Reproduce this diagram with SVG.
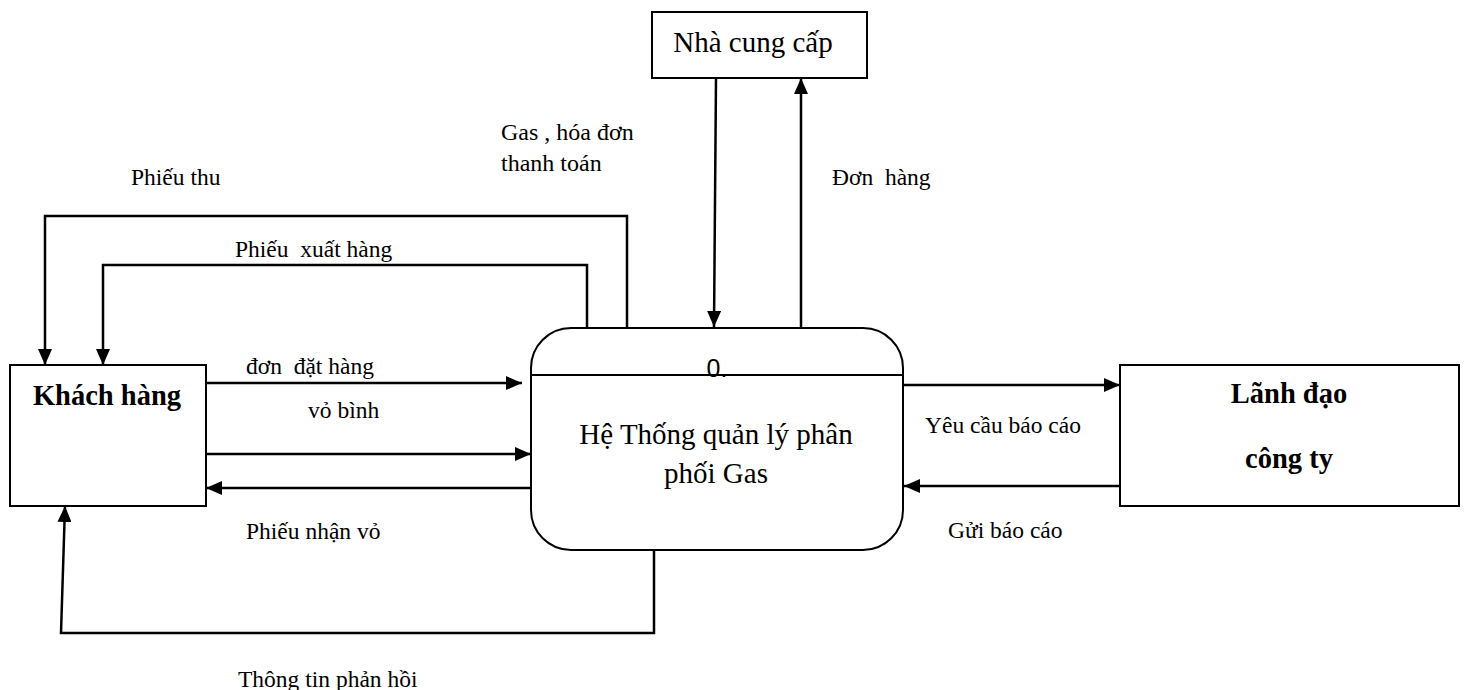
<svg xmlns="http://www.w3.org/2000/svg" width="1464" height="690" viewBox="0 0 1464 690">
  <defs>
    <marker id="arrow" markerUnits="userSpaceOnUse" markerWidth="16" markerHeight="14" refX="16" refY="7" orient="auto">
      <path d="M0,0 L16,7 L0,14 z" fill="#000"/>
    </marker>
    <style>
      .box { fill: #fff; stroke: #000; stroke-width: 2; }
      .flow { fill: none; stroke: #000; stroke-width: 2.5; marker-end: url(#arrow); }
      .label { font-family: "Liberation Serif", "Times New Roman", serif; font-size: 23.5px; fill: #000; }
      .title { font-family: "Liberation Serif", "Times New Roman", serif; font-size: 28.5px; font-weight: bold; fill: #000; text-anchor: middle; }
      .proc { font-family: "Liberation Serif", "Times New Roman", serif; font-size: 29px; fill: #000; text-anchor: middle; }
    </style>
  </defs>
  <rect width="1464" height="690" fill="#fff"/>

  <!-- Connectors -->
  <g id="connectors">
    <polyline class="flow" points="627,327 627,216 45,216 45,365"/>
    <polyline class="flow" points="587,327 587,265 103,265 103,365"/>
    <line class="flow" x1="206" y1="383" x2="522" y2="383"/>
    <line class="flow" x1="206" y1="454" x2="531" y2="454"/>
    <line class="flow" x1="531" y1="488" x2="206" y2="488"/>
    <polyline class="flow" points="654,550 654,633 61,633 65,506"/>
    <line class="flow" x1="716" y1="78" x2="714" y2="327"/>
    <line class="flow" x1="801" y1="327" x2="801" y2="78"/>
    <line class="flow" x1="904" y1="385" x2="1120" y2="385"/>
    <line class="flow" x1="1120" y1="486" x2="904" y2="486"/>
  </g>

  <!-- Flow labels -->
  <g id="flow-labels" class="label">
    <text x="501" y="140" font-size="24">Gas , hóa đơn</text>
    <text x="501" y="171" font-size="24">thanh toán</text>
    <text x="131" y="185">Phiếu thu</text>
    <text x="832" y="185" xml:space="preserve">Đơn  hàng</text>
    <text x="235" y="257" xml:space="preserve">Phiếu  xuất hàng</text>
    <text x="246" y="374" xml:space="preserve">đơn  đặt hàng</text>
    <text x="308" y="418">vỏ bình</text>
    <text x="925" y="433">Yêu cầu báo cáo</text>
    <text x="246" y="539">Phiếu nhận vỏ</text>
    <text x="948" y="538">Gửi báo cáo</text>
    <text x="238" y="687">Thông tin phản hồi</text>
  </g>

  <!-- External entity: supplier -->
  <g id="nha-cung-cap">
    <rect class="box" x="652" y="12" width="215" height="66"/>
    <text class="proc" x="753" y="52">Nhà cung cấp</text>
  </g>

  <!-- External entity: customer -->
  <g id="khach-hang">
    <rect class="box" x="10" y="365" width="196" height="141"/>
    <text class="title" x="107" y="405">Khách hàng</text>
  </g>

  <!-- External entity: management -->
  <g id="lanh-dao">
    <rect class="box" x="1120" y="365" width="339" height="141"/>
    <text class="title" x="1289" y="403">Lãnh đạo</text>
    <text class="title" x="1289" y="468">công ty</text>
  </g>

  <!-- Process 0 -->
  <g id="process-0">
    <rect class="box" x="531" y="328" width="372" height="222" rx="40" ry="40"/>
    <line x1="531" y1="375" x2="903" y2="375" stroke="#000" stroke-width="2"/>
    <text x="717" y="377" font-family="Liberation Sans, Arial, sans-serif" font-size="25" text-anchor="middle">0.</text>
    <text class="proc" x="716" y="444">Hệ Thống quản lý phân</text>
    <text class="proc" x="716" y="483">phối Gas</text>
  </g>
</svg>
